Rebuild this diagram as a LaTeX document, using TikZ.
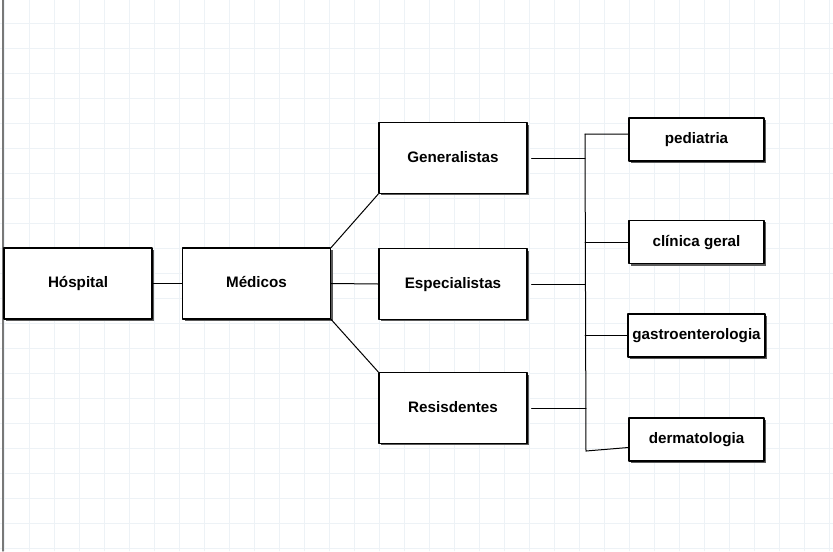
\documentclass[tikz,border=0pt]{standalone}
\usepackage{fontspec}
\setsansfont{Liberation Sans}
\usepackage{tikz}
\usetikzlibrary{arrows.meta,calc,positioning,shadows}
\definecolor{gradeazul}{RGB}{237,242,246}
\definecolor{bordacinza}{RGB}{120,120,120}
\definecolor{sombra}{RGB}{90,90,90}

\tikzset{
 caixa/.style={draw=black,line width=1.1pt,fill=white,
  font=\sffamily\bfseries\fontsize{11.4}{13}\selectfont,
  text height=8.2pt,text depth=2.2pt,
  drop shadow={shadow xshift=1.6pt,shadow yshift=-1.6pt,fill=sombra,opacity=1}},
 grande/.style={caixa,minimum width=111pt,minimum height=53pt},
 pequena/.style={caixa,minimum width=101pt,minimum height=32.5pt},
 liga/.style={line width=0.75pt,black}
}

\begin{document}
\begin{tikzpicture}[x=0.75pt,y=-0.75pt,line cap=round,line join=round]
 \useasboundingbox (0,0) rectangle (833,551);
 \fill[white] (0,0) rectangle (833,551);
 % Grade de fundo.
 \foreach \gx in {4,29,...,829}
  \draw[gradeazul,line width=0.5pt] (\gx,0) -- (\gx,551);
 \foreach \gy in {23,48,...,548}
  \draw[gradeazul,line width=0.5pt] (0,\gy) -- (833,\gy);
 \draw[bordacinza,line width=1pt] (3,0) -- (3,551);
 % Caixas principais.
 \node[grande] (hosp) at (78,283.5) {Hóspital};
 \node[grande] (medicos) at (256.5,283.5) {Médicos};
 \node[grande] (gen) at (453,158) {Generalistas};
 \node[grande] (esp) at (453,284) {Especialistas};
 \node[grande] (res) at (453,408) {Resisdentes};
 % Áreas.
 \node[pequena] (ped) at (696.5,139.5) {pediatria};
 \node[pequena] (cli) at (696.5,242) {clínica geral};
 \node[pequena] (gas) at (696.5,335.5) {gastroenterologia};
 \node[pequena] (der) at (696.5,439.5) {dermatologia};
 % Ligações.
 \draw[liga] (hosp.east) -- (medicos.west);
 \draw[liga] (medicos.north east) -- (gen.south west);
 \draw[liga] (medicos.east) -- (esp.west);
 \draw[liga] (medicos.south east) -- (res.north west);
 \coordinate (bt) at (585,134);
 \coordinate (bb) at (586,451);
 \draw[liga] (bt) -- (bb);
 \draw[liga] ([xshift=3pt]gen.east) -- (gen.east -| bt);
 \draw[liga] ([xshift=3pt]esp.east) -- (esp.east -| bt);
 \draw[liga] ([xshift=3pt]res.east) -- (res.east -| bb);
 \draw[liga] (bt) -- ([yshift=4pt]ped.west);
 \draw[liga] (cli.west -| bt) -- (cli.west);
 \draw[liga] (gas.west -| bt) -- (gas.west);
 \draw[liga] (bb) -- ([yshift=-6pt]der.west);
\end{tikzpicture}
\end{document}
